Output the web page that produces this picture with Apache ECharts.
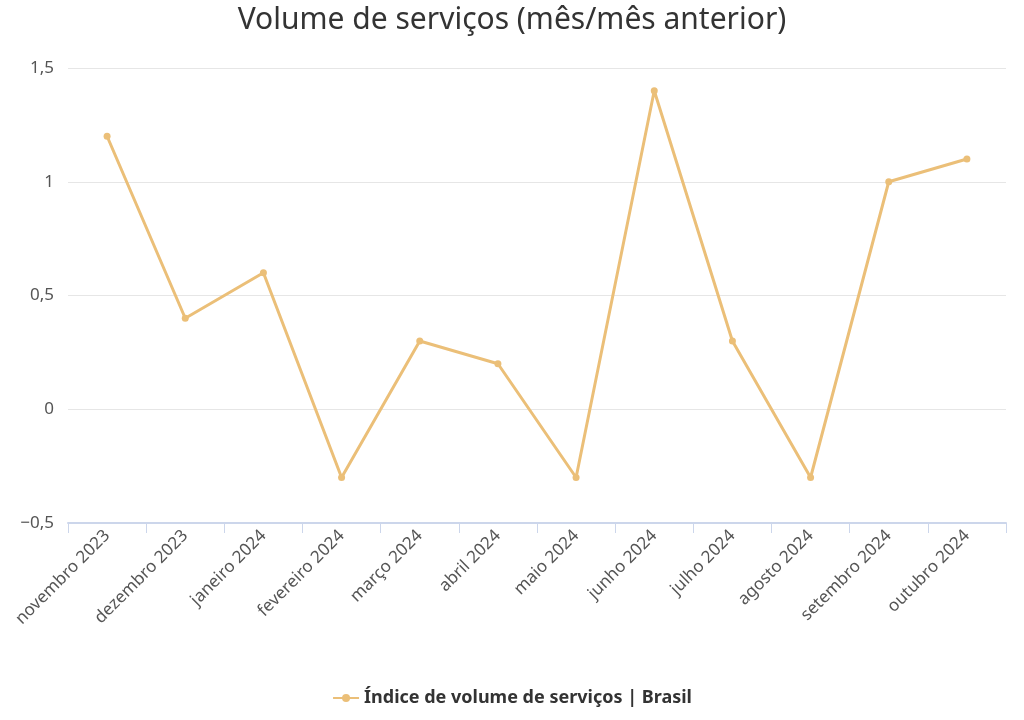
<!DOCTYPE html>
<html><head><meta charset="utf-8">
<script src="https://cdn.jsdelivr.net/npm/echarts@6/dist/echarts.min.js"></script>
<style>html,body{margin:0;background:#fff}#c{width:1024px;height:720px}</style></head>
<body><div id="c"></div>
<script>
const categories = ["novembro 2023","dezembro 2023","janeiro 2024","fevereiro 2024","março 2024","abril 2024","maio 2024","junho 2024","julho 2024","agosto 2024","setembro 2024","outubro 2024"];
const values = [1.2,0.4,0.6,-0.3,0.3,0.2,-0.3,1.4,0.3,-0.3,1.0,1.1];
const seriesName = "Índice de volume de serviços | Brasil";
const chart = echarts.init(document.getElementById('c'));
chart.setOption({
  textStyle:{fontFamily:'Noto Sans'},
  title:{text:'Volume de serviços (mês/mês anterior)',left:'center',top:0,textStyle:{fontSize:30,fontWeight:'normal',color:'#333'}},
  legend:{bottom:8,itemWidth:26,itemHeight:10,textStyle:{fontSize:18,fontWeight:'bold',color:'#333'},data:[seriesName]},
  grid:{left:68,right:18,top:68,bottom:197},
  xAxis:{type:'category',data:categories,boundaryGap:true,
    axisLine:{onZero:false,lineStyle:{color:'#ccd6eb',width:2}},axisTick:{show:true,length:10,lineStyle:{color:'#ccd6eb'}},
    axisLabel:{rotate:45,color:'#555',fontSize:17,margin:10,interval:0}},
  yAxis:{type:'value',min:-0.5,max:1.5,interval:0.5,
    axisLabel:{color:'#555',fontSize:17,margin:14,formatter:v=>String(v).replace('.',',').replace('-','−')},
    splitLine:{lineStyle:{color:'#e6e6e6'}}},
  series:[{name:seriesName,type:'line',data:values,color:'#EBBF78',
    lineStyle:{width:3},symbol:'circle',symbolSize:7}]
});
</script></body></html>
